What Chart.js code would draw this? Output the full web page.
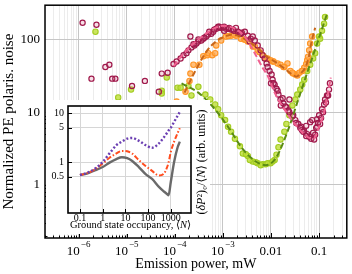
<!DOCTYPE html>
<html>
<head>
<meta charset="utf-8">
<script src="https://cdn.jsdelivr.net/npm/chart.js@4"></script>
<style>
  html, body { margin: 0; padding: 0; background: #fff; }
  #wrap { position: relative; width: 352px; height: 274px; }
  #main { position: absolute; left: 0; top: 0; }
  #inset { position: absolute; left: 46px; top: 88px; }
</style>
</head>
<body>
<div id="wrap">
  <canvas id="main" width="352" height="274"></canvas>
  <canvas id="inset" width="164" height="146"></canvas>
</div>
<script>
// ---- main chart data (power in mW, normalized noise) ----
const crimsonPower = [1.21e-6, 1.85e-6, 2.35e-6, 3.6e-6, 4.35e-6, 5.0e-6, 5.8e-6, 1.29e-5, 2.39e-5, 4.65e-5,
  5.35e-5, 7.1e-5, 9.4e-5, 1.09e-4, 1.32e-4, 1.52e-4, 1.75e-4, 1.92e-4, 2.11e-4, 2.22e-4,
  2.55e-4, 2.81e-4, 3.09e-4, 3.56e-4, 3.91e-4, 4.51e-4, 4.96e-4, 5.72e-4, 6.3e-4, 7.25e-4,
  7.96e-4, 8.75e-4, 1.01e-3, 1.16e-3, 1.28e-3, 1.48e-3, 1.70e-3, 2.06e-3, 2.48e-3, 2.86e-3,
  3.30e-3, 3.80e-3, 4.60e-3, 5.30e-3, 6.1e-3, 6.7e-3, 7.38e-3, 8.1e-3, 8.5e-3, 9.35e-3,
  1.03e-2, 1.08e-2, 1.19e-2, 1.30e-2, 1.43e-2, 1.58e-2, 1.82e-2, 2.09e-2, 2.41e-2, 2.78e-2,
  3.21e-2, 3.70e-2, 4.26e-2, 4.91e-2, 5.66e-2, 6.22e-2, 6.84e-2, 7.89e-2, 8.28e-2, 6.53e-2,
  7.18e-2, 9.1e-2, 0.1, 0.115, 0.127, 0.133, 0.146, 0.161, 0.168, 4.4e-2,
  5.4e-2, 9.1e-2, 0.105, 2.41e-2, 1.06e-3, 1.87e-3, 2.37e-3, 1.0e-2, 1.6e-2, 1.75e-2,
  2.0e-2, 2.3e-2, 2.9e-2, 3.36e-2, 4.06e-2, 4.7e-2, 5.4e-2, 7.5e-2, 8.7e-2, 9.5e-2,
  0.11, 0.121, 0.139, 0.154, 1.13e-2, 1.37e-2, 2.44e-4, 3.09e-4, 4.1e-4, 5.2e-4,
  6.6e-4, 8.4e-4, 1.06e-3, 1.35e-3, 1.62e-3, 2.26e-3, 3.6e-3, 4.18e-3];
const crimsonNoise = [170, 29, 160, 42, 45, 29, 29, 23, 27, 19.2,
  34, 35, 46, 50, 55, 61, 65, 71, 110, 78,
  83, 88, 94, 97, 103, 110, 117, 120, 128, 141,
  150, 145, 145, 141, 141, 137, 132, 128, 124, 128,
  113, 103, 97, 83, 71, 61, 55, 47, 42, 37,
  33, 28, 24, 21, 17.5, 15, 13.2, 11.7, 10, 8.8,
  7.8, 6.9, 6.3, 5.5, 5.0, 4.6, 4.3, 4.2, 4.9, 7.3,
  7.8, 8.0, 9.1, 11, 12.8, 15, 17, 20.5, 25, 5.7,
  6.5, 6.3, 6.9, 15, 132, 145, 120, 25, 12.4, 15.6,
  12, 10.6, 9.1, 7.1, 6.1, 5.4, 4.7, 5.2, 6.1, 7.1,
  8.3, 10, 13.6, 17, 25, 19.8, 86, 100, 106, 128,
  137, 150, 150, 145, 137, 120, 94, 110];
const crimsonFitPower = [9.4e-5, 1.92e-4, 3.91e-4, 6.9e-4, 1.01e-3, 1.78e-3, 2.86e-3, 4.6e-3, 6.7e-3, 8.5e-3,
  1.19e-2, 2.2e-2, 3.52e-2, 5.66e-2, 7.6e-2, 0.1, 0.127, 0.154, 0.175];
const crimsonFitNoise = [43, 76, 113, 145, 155, 141, 110, 65, 41, 32,
  18.6, 9.5, 6.3, 4.6, 4.3, 6.3, 10, 18.6, 30];

const orangePower = [1.09e-4, 1.67e-4, 2.02e-4, 2.11e-4, 2.44e-4, 3.24e-4, 3.91e-4, 4.73e-4, 4.96e-4, 6.0e-4,
  6.9e-4, 7.25e-4, 9.2e-4, 1.16e-3, 1.48e-3, 1.87e-3, 2.37e-3, 3.30e-3, 4.18e-3, 5.30e-3,
  6.7e-3, 7.74e-3, 9.8e-3, 1.37e-2, 1.58e-2, 2.2e-2, 2.53e-2, 3.21e-2, 3.52e-2, 3.88e-2,
  4.91e-2, 5.66e-2, 6.22e-2, 6.53e-2, 7.18e-2, 1.3e-3, 2.8e-3, 1.1e-2, 1.9e-2, 2.9e-2,
  4.4e-2, 1.7e-3, 2.86e-3, 4.6e-3, 5.8e-3, 8.5e-3, 1.13e-2, 1.82e-2, 2.78e-2, 4.46e-2,
  5.4e-2, 5.9e-2];
const orangeNoise = [14, 19.2, 27, 34, 45, 45, 59, 61, 65, 61,
  65, 83, 97, 110, 113, 113, 103, 94, 80, 71,
  61, 55, 52, 47, 45, 47, 37, 33, 32, 35,
  41, 52, 71, 88, 110, 112, 100, 50, 42, 34,
  37, 117, 100, 80, 67, 55, 50, 42, 35, 37,
  46, 58];
const orangeFitPower = [1.59e-4, 2.55e-4, 4.73e-4, 7.6e-4, 1.11e-3, 1.55e-3, 2.26e-3, 3.15e-3, 5.3e-3, 8.1e-3,
  1.37e-2, 2.09e-2, 2.78e-2, 3.36e-2, 4.26e-2, 5.15e-2, 6.22e-2, 6.84e-2, 8.28e-2];
const orangeFitNoise = [18.6, 35, 71, 97, 110, 117, 110, 97, 76, 59,
  47, 38, 33, 31, 35, 41, 61, 88, 145];

const greenPower = [2.24e-6, 6.65e-6, 1.23e-5, 5.35e-5, 5.35e-5, 6.8e-5, 1.14e-4, 1.32e-4, 1.92e-4, 2.22e-4,
  3.09e-4, 4.31e-4, 5.45e-4, 6.9e-4, 7.96e-4, 9.2e-4, 1.11e-3, 1.28e-3, 1.48e-3, 1.78e-3,
  2.26e-3, 2.60e-3, 3.30e-3, 4.18e-3, 5.30e-3, 6.7e-3, 7.74e-3, 9.8e-3, 1.19e-2, 1.30e-2,
  1.58e-2, 1.90e-2, 2.41e-2, 2.78e-2, 3.21e-2, 4.06e-2, 4.91e-2, 5.66e-2, 6.53e-2, 8.28e-2,
  9.1e-2, 0.1, 0.115, 0.127, 0.133, 3.0e-3, 3.63e-3, 4.83e-3, 6.1e-3, 8.5e-3,
  1.08e-2, 1.43e-2, 2.09e-2, 3.52e-2, 4.46e-2, 7.5e-2, 0.105];
const greenNoise = [128, 16, 20.5, 19.8, 18.1, 30, 21.8, 21.8, 23, 17,
  22.4, 17.5, 15, 12.8, 11, 9.1, 7.8, 6.3, 5.4, 4.3,
  3.4, 2.7, 2.5, 2.1, 1.98, 1.92, 1.92, 1.98, 2.2, 2.6,
  4.2, 5.4, 9.1, 12.4, 15, 20.5, 28, 37, 45, 65,
  88, 110, 132, 165, 205, 2.65, 2.2, 2.05, 1.87, 1.98,
  2.1, 3.3, 6.9, 17.5, 24, 55, 103];
const greenFitPower = [1.38e-4, 3.09e-4, 6.3e-4, 1.28e-3, 2.6e-3, 4.83e-3, 7.74e-3, 1.24e-2, 2.2e-2, 3.52e-2,
  5.66e-2, 9.1e-2, 0.146];
const greenFitNoise = [25, 18.6, 11.7, 6.3, 3.1, 2.1, 1.87, 2.3, 5.4, 13.6,
  35, 88, 225];

const xTickValues = [1e-6, 1e-5, 1e-4, 1e-3, 0.01, 0.1];
const xTickLabels = ['10^\u22126', '10^\u22125', '10^\u22124', '10^\u22123', '0.01', '0.1'];
const yTickValues = [1, 10, 100];
const yTickLabels = ['1', '10', '100'];

// ---- inset data ----
const occupancy = [0.1, 0.2, 0.4, 1, 2, 4, 7, 12, 20, 40, 80, 150, 300, 500, 700, 800, 1000, 1400, 2000, 2500];
const grayCurve = [0.54, 0.58, 0.66, 0.79, 0.97, 1.15, 1.25, 1.2, 1.05, 0.78, 0.56, 0.45, 0.31, 0.25, 0.22, 0.21, 0.39, 1.0, 2.0, 2.6];
const redCurve = [0.54, 0.59, 0.68, 0.93, 1.22, 1.5, 1.68, 1.65, 1.48, 1.08, 0.82, 0.66, 0.53, 0.58, 0.8, 0.98, 1.6, 2.6, 3.9, 4.9];
const purpleCurve = [0.54, 0.6, 0.7, 1.0, 1.5, 2.2, 2.6, 3.0, 3.1, 2.7, 2.2, 1.95, 2.4, 3.2, 4.0, 4.4, 5.0, 6.6, 8.8, 10.5];
const insetXTicks = [0.1, 1, 10, 100, 1000];
const insetXLabels = ['0.1', '1', '10', '100', '1000'];
const insetYTicks = [0.5, 1, 5, 10];
const insetYLabels = ['0.5', '1', '5', '10'];

const FONT = '"Liberation Serif", "DejaVu Serif", serif';

function pts(xs, ys) {
  return xs.map((v, i) => ({ x: v, y: ys[i] }));
}

function isDecade(v) {
  const l = Math.log10(v);
  return Math.abs(l - Math.round(l)) < 1e-6;
}

function drawPowerLabel(ctx, label, cx, baseline) {
  const parts = label.split('^');
  ctx.textAlign = 'left';
  ctx.font = '13px ' + FONT;
  const wb = ctx.measureText(parts[0]).width;
  let we = 0;
  if (parts[1]) {
    ctx.font = '9px ' + FONT;
    we = ctx.measureText(parts[1]).width + 1;
  }
  const left = cx - (wb + we) / 2;
  ctx.font = '13px ' + FONT;
  ctx.fillText(parts[0], left, baseline);
  if (parts[1]) {
    ctx.font = '9px ' + FONT;
    ctx.fillText(parts[1], left + wb + 1, baseline - 8);
  }
}

// text made of plain and italic pieces, centred on x
function drawRich(ctx, parts, x, y, size) {
  let total = 0;
  parts.forEach(p => {
    ctx.font = (p[1] ? 'italic ' : '') + size + 'px ' + FONT;
    total += ctx.measureText(p[0]).width;
  });
  let cx = x - total / 2;
  ctx.textAlign = 'left';
  parts.forEach(p => {
    ctx.font = (p[1] ? 'italic ' : '') + size + 'px ' + FONT;
    ctx.fillText(p[0], cx, y);
    cx += ctx.measureText(p[0]).width;
  });
}

const mainDecor = {
  id: 'mainDecor',
  afterDraw(chart) {
    const { ctx, chartArea: a, scales: { x, y } } = chart;
    ctx.save();
    ctx.strokeStyle = '#000';
    ctx.lineWidth = 1;
    for (let e = -7; e <= 0; e++) {
      for (let m = 1; m <= 9; m++) {
        const v = m * Math.pow(10, e);
        if (v >= x.min && v <= x.max) {
          const px = Math.round(x.getPixelForValue(v)) + 0.5;
          ctx.beginPath();
          ctx.moveTo(px, a.bottom);
          ctx.lineTo(px, a.bottom - (m === 1 ? 5 : 2.5));
          ctx.stroke();
        }
        if (v >= y.min && v <= y.max) {
          const py = Math.round(y.getPixelForValue(v)) + 0.5;
          ctx.beginPath();
          ctx.moveTo(a.left, py);
          ctx.lineTo(a.left + (m === 1 ? 5 : 2.5), py);
          ctx.stroke();
        }
      }
    }
    ctx.lineWidth = 1.5;
    ctx.strokeRect(a.left, a.top, a.right - a.left, a.bottom - a.top);

    ctx.fillStyle = '#000';
    ctx.textBaseline = 'alphabetic';
    xTickValues.forEach((v, i) => drawPowerLabel(ctx, xTickLabels[i], x.getPixelForValue(v), 255));
    ctx.textAlign = 'right';
    ctx.textBaseline = 'middle';
    ctx.font = '13px ' + FONT;
    yTickValues.forEach((v, i) => ctx.fillText(yTickLabels[i], 40, y.getPixelForValue(v)));

    ctx.textAlign = 'center';
    ctx.textBaseline = 'alphabetic';
    ctx.font = '14px ' + FONT;
    ctx.fillText('Emission power, mW', (a.left + a.right) / 2, 268);
    ctx.font = '15px ' + FONT;
    ctx.translate(13, (a.top + a.bottom) / 2);
    ctx.rotate(-Math.PI / 2);
    ctx.fillText('Normalized PE polaris. noise', 0, 0);
    ctx.restore();
  }
};

const insetDecor = {
  id: 'insetDecor',
  beforeDraw(chart) {
    const ctx = chart.ctx;
    ctx.save();
    ctx.fillStyle = '#fff';
    ctx.fillRect(0, 12, chart.width, chart.height - 12);
    ctx.restore();
  },
  afterDraw(chart) {
    const { ctx, chartArea: a, scales: { x, y } } = chart;
    ctx.save();
    ctx.strokeStyle = '#000';
    ctx.lineWidth = 1;
    insetXTicks.forEach(v => {
      const px = Math.round(x.getPixelForValue(v)) + 0.5;
      ctx.beginPath();
      ctx.moveTo(px, a.bottom);
      ctx.lineTo(px, a.bottom - 4);
      ctx.stroke();
    });
    insetYTicks.forEach(v => {
      const py = Math.round(y.getPixelForValue(v)) + 0.5;
      ctx.beginPath();
      ctx.moveTo(a.left, py);
      ctx.lineTo(a.left + 4, py);
      ctx.stroke();
    });
    ctx.lineWidth = 1.6;
    ctx.strokeRect(a.left, a.top, a.right - a.left, a.bottom - a.top);

    ctx.fillStyle = '#000';
    ctx.font = '10px ' + FONT;
    ctx.textAlign = 'center';
    ctx.textBaseline = 'alphabetic';
    insetXTicks.forEach((v, i) => ctx.fillText(insetXLabels[i], x.getPixelForValue(v), a.bottom + 8));
    ctx.textAlign = 'right';
    ctx.textBaseline = 'middle';
    insetYTicks.forEach((v, i) => ctx.fillText(insetYLabels[i], a.left - 4, y.getPixelForValue(v)));

    ctx.textBaseline = 'alphabetic';
    drawRich(ctx, [['Ground state occupancy, \u27e8', false], ['N', true], ['\u27e9', false]],
      (a.left + a.right) / 2 + 1, a.bottom + 15, 10.5);
    ctx.translate(a.right + 11, 74);
    ctx.rotate(-Math.PI / 2);
    ctx.textBaseline = 'middle';
    drawRich(ctx, [['(', false], ['\u03b4P', true], ['\u00b2)\u2080/\u27e8', false], ['N', true], ['\u27e9 (arb. units)', false]],
      0, 0, 12);
    ctx.restore();
  }
};

new Chart(document.getElementById('main'), {
  type: 'scatter',
  data: {
    datasets: [
      { data: pts(crimsonFitPower, crimsonFitNoise), showLine: true, pointRadius: 0, borderColor: '#f0608f',
        borderWidth: 2, borderDash: [6, 3], cubicInterpolationMode: 'monotone', order: 0 },
      { data: pts(orangeFitPower, orangeFitNoise), showLine: true, pointRadius: 0, borderColor: '#c8661a',
        borderWidth: 2, borderDash: [6, 3], cubicInterpolationMode: 'monotone', order: 0 },
      { data: pts(greenFitPower, greenFitNoise), showLine: true, pointRadius: 0, borderColor: '#5b8c14',
        borderWidth: 2, borderDash: [6, 3], cubicInterpolationMode: 'monotone', order: 0 },
      { data: pts(greenPower, greenNoise), pointRadius: 2.7, borderWidth: 1.1,
        borderColor: '#a3cc22', backgroundColor: 'rgba(190,222,55,0.8)', order: 3 },
      { data: pts(orangePower, orangeNoise), pointRadius: 2.7, borderWidth: 1.1,
        borderColor: '#ff9526', backgroundColor: 'rgba(255,170,80,0.75)', order: 2 },
      { data: pts(crimsonPower, crimsonNoise), pointRadius: 2.6, borderWidth: 1.2,
        borderColor: '#a01a4c', backgroundColor: 'rgba(215,95,135,0.2)', order: 1 }
    ]
  },
  options: {
    animation: false,
    responsive: false,
    events: [],
    layout: { padding: { top: 1, right: 2, left: 0, bottom: 0 } },
    plugins: { legend: { display: false }, tooltip: { enabled: false } },
    scales: {
      x: {
        type: 'logarithmic', min: 2.0e-7, max: 0.377,
        afterFit: s => { s.height = 36; },
        afterBuildTicks: s => {
          const t = [];
          for (let e = -7; e <= 0; e++) for (let m = 1; m <= 9; m++) {
            const v = m * Math.pow(10, e);
            if (v >= s.min && v <= s.max) t.push({ value: v });
          }
          s.ticks = t;
        },
        ticks: { display: false },
        border: { display: false },
        grid: { drawTicks: false, color: c => (c.tick && isDecade(c.tick.value)) ? '#c6c6c6' : '#ececec' }
      },
      y: {
        type: 'logarithmic', min: 0.186, max: 297,
        afterFit: s => { s.width = 45; },
        afterBuildTicks: s => { s.ticks = yTickValues.map(v => ({ value: v })); },
        ticks: { display: false },
        border: { display: false },
        grid: { drawTicks: false, color: '#c6c6c6' }
      }
    }
  },
  plugins: [mainDecor]
});

new Chart(document.getElementById('inset'), {
  type: 'line',
  data: {
    datasets: [
      { data: pts(occupancy, purpleCurve), borderColor: '#6b3fb2', borderWidth: 2.4, borderDash: [2, 2],
        pointRadius: 0, cubicInterpolationMode: 'monotone' },
      { data: pts(occupancy, redCurve), borderColor: '#ff4d1f', borderWidth: 2, borderDash: [5, 2, 1.5, 2],
        pointRadius: 0, cubicInterpolationMode: 'monotone' },
      { data: pts(occupancy, grayCurve), borderColor: '#6a6a6a', borderWidth: 2.4,
        pointRadius: 0, cubicInterpolationMode: 'monotone' }
    ]
  },
  options: {
    animation: false,
    responsive: false,
    events: [],
    layout: { padding: { top: 18, right: 19, left: 0, bottom: 0 } },
    plugins: { legend: { display: false }, tooltip: { enabled: false } },
    scales: {
      x: {
        type: 'logarithmic', min: 0.0296, max: 7770,
        afterFit: s => { s.height = 21; },
        afterBuildTicks: s => { s.ticks = insetXTicks.map(v => ({ value: v })); },
        ticks: { display: false },
        border: { display: false },
        grid: { drawTicks: false, color: '#d6d6d6' }
      },
      y: {
        type: 'logarithmic', min: 0.091, max: 13.9,
        afterFit: s => { s.width = 22; },
        afterBuildTicks: s => { s.ticks = insetYTicks.map(v => ({ value: v })); },
        ticks: { display: false },
        border: { display: false },
        grid: { drawTicks: false, color: '#d6d6d6' }
      }
    }
  },
  plugins: [insetDecor]
});
</script>
</body>
</html>
